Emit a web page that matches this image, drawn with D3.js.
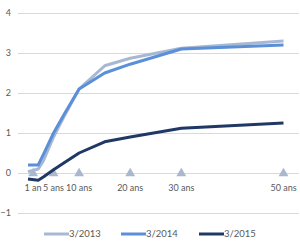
<!DOCTYPE html>
<html><head><meta charset="utf-8">
<script src="https://cdn.jsdelivr.net/npm/d3@7"></script>
<style>body{margin:0;background:#fff}svg{display:block}text{font-family:Lato,"Open Sans",sans-serif;fill:#595959}</style>
</head><body><div id="c"></div>
<script>
const maturities = [0, 2, 3, 5, 7, 10, 15, 20, 30, 50];
const s2013 = [0.03, 0.1, 0.3, 0.9, 1.4, 2.1, 2.68, 2.87, 3.12, 3.3];
const s2014 = [0.2, 0.2, 0.46, 1.0, 1.45, 2.1, 2.5, 2.72, 3.1, 3.2];
const s2015 = [-0.15, -0.18, -0.1, 0.08, 0.25, 0.5, 0.78, 0.9, 1.12, 1.25];
const seriesNames = ["3/2013", "3/2014", "3/2015"];
const colors = ["#a7b9d2", "#5b8fd8", "#1f3864"];
const tickYears = [1, 5, 10, 20, 30, 50];
const tickLabels = ["1 an", "5 ans", "10 ans", "20 ans", "30 ans", "50 ans"];
const yTicks = [-1, 0, 1, 2, 3, 4];

const W = 300, H = 243;
const svg = d3.select("#c").append("svg").attr("width", W).attr("height", H);
const x = d3.scaleLinear().domain([0, 50]).range([28, 283.5]);
const y = d3.scaleLinear().domain([-1, 4]).range([213, 13]);

// gridlines + y labels
const yAxis = d3.axisLeft(y).tickValues(yTicks).tickFormat(d3.format("d")).tickSize(-(299 - 18)).tickPadding(8);
const gy = svg.append("g").attr("transform", "translate(18,0)").call(yAxis);
gy.select(".domain").remove();
gy.selectAll(".tick line").attr("stroke", "#d9d9d9");
gy.selectAll(".tick text").attr("font-size", 9).attr("fill", "#595959").attr("x", -7);

// triangle markers
const tri = d3.symbol().type(d3.symbolTriangle).size(42);
svg.append("g").selectAll("path").data(tickYears).join("path")
  .attr("d", tri).attr("fill", "#a9b8cc")
  .attr("transform", d => `translate(${x(d)},${y(0) + 0.5})`);

// lines
const all = [s2013, s2014, s2015];
const line = d3.line().x((d, i) => x(maturities[i])).y(d => y(d));
svg.append("g").selectAll("path").data(all).join("path")
  .attr("d", line).attr("fill", "none")
  .attr("stroke", (d, i) => colors[i]).attr("stroke-width", 3)
  .attr("stroke-linejoin", "round");

// tick labels
svg.append("g").selectAll("text").data(tickYears).join("text")
  .attr("x", d => x(d)).attr("y", 191).attr("text-anchor", "middle")
  .attr("font-size", 9).text((d, i) => tickLabels[i]);

// legend
const lx = [44, 121, 199];
const lg = svg.append("g").selectAll("g").data(seriesNames).join("g")
  .attr("transform", (d, i) => `translate(${lx[i]},234)`);
lg.append("line").attr("x1", 0).attr("x2", 25).attr("stroke", (d, i) => colors[i]).attr("stroke-width", 3);
lg.append("text").attr("x", 25).attr("y", 3).attr("font-size", 9.5).text(d => d);
</script></body></html>
